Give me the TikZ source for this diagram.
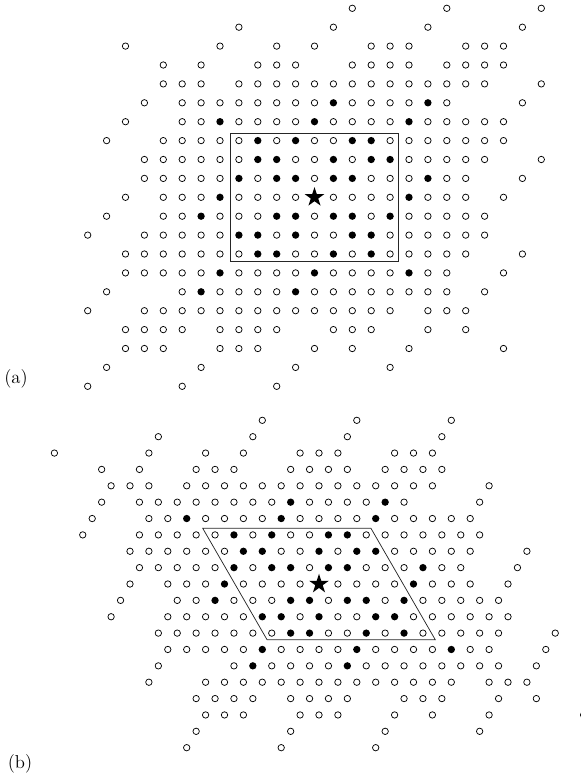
\documentclass[tikz,border=0pt]{standalone}
\usetikzlibrary{shapes.geometric}
\begin{document}
\begin{tikzpicture}[x=0.75pt,y=-0.75pt,
  opendot/.style={circle,draw=black,line width=0.55pt,inner sep=0pt,minimum size=4.8pt},
  filldot/.style={circle,fill=black,inner sep=0pt,minimum size=5.5pt},
  starmark/.style={star,star points=5,star point ratio=2.618,fill=black,inner sep=0pt,minimum size=15.4pt},
  boxline/.style={draw=black!85,line width=0.55pt},
  lab/.style={inner sep=0pt,font=\fontsize{14}{16}\selectfont}]
\useasboundingbox (0,0) rectangle (581,782);
\foreach \p/\X/\Y/\s/\d in {a/314.5/197.3/0/18.9, b/319/584/9.45/16.368}{
  % open circles
  \foreach \r/\cols in {
    0/{14,19,24},
    1/{8,13,18,23},
    2/{2,7,10,12,15,16,17,20,21,22},
    3/{4,6,9,10,11,14,15,16,17,19,20,21,22},
    4/{4,5,6,8,9,10,11,12,13,14,15,16,17,18,19,20,21,24},
    5/{3,5,6,7,8,9,10,11,12,14,15,16,17,19,23},
    6/{2,5,6,8,9,10,11,13,14,15,16,18,19,20,21,22},
    7/{1,4,5,6,7,8,10,12,13,16,17,18,19,20,21,22},
    8/{3,4,5,6,7,8,11,12,14,17,18,19,20,21,24},
    9/{3,4,5,6,7,9,12,15,16,17,19,20,23},
    10/{2,4,5,6,8,9,10,11,13,14,15,16,18,19,20,22},
    11/{1,4,5,7,8,9,12,15,17,18,19,20,21},
    12/{0,3,4,5,6,7,10,12,13,16,17,18,19,20,21},
    13/{2,3,4,5,6,7,8,11,12,14,16,17,18,19,20,23},
    14/{2,3,4,5,6,8,9,10,11,13,14,15,16,18,19,22},
    15/{1,5,7,8,9,10,12,13,14,15,16,17,18,19,21},
    16/{0,3,4,5,6,7,8,9,10,11,12,13,14,15,16,18,19,20},
    17/{2,3,4,5,7,8,9,10,13,14,15,18,20},
    18/{2,3,4,7,8,9,12,14,17,22},
    19/{1,6,11,16},
    20/{0,5,10}}{
    \foreach \c in \cols{
      \node[opendot] (\p-\r-\c) at ({\X+18.9*(\c-12)+\s*(\r-10)},{\Y+\d*(\r-10)}) {};
    }
  }
  % filled dots
  \foreach \r/\c in {5/13,5/18,
    6/7,6/12,6/17,
    7/9,7/11,7/14,7/15,
    8/9,8/10,8/13,8/15,8/16,
    9/8,9/10,9/11,9/13,9/14,9/18,
    10/7,10/17,
    11/6,11/10,11/11,11/13,11/14,11/16,
    12/8,12/9,12/11,12/14,12/15,
    13/9,13/10,13/13,13/15,
    14/7,14/12,14/17,
    15/6,15/11}{
    \node[filldot] (\p-\r-\c) at ({\X+18.9*(\c-12)+\s*(\r-10)},{\Y+\d*(\r-10)}) {};
  }
  % star
  \node[starmark] (\p-star) at (\X,\Y) {};
  % box corners
  \coordinate (\p-tl) at ({\X-18.9*4.45-\s*3.4},{\Y-\d*3.4});
  \coordinate (\p-tr) at ({\X+18.9*4.45-\s*3.4},{\Y-\d*3.4});
  \coordinate (\p-br) at ({\X+18.9*4.45+\s*3.4},{\Y+\d*3.4});
  \coordinate (\p-bl) at ({\X-18.9*4.45+\s*3.4},{\Y+\d*3.4});
  \draw[boxline] (\p-tl) -- (\p-tr) -- (\p-br) -- (\p-bl) -- cycle;
}
\node[lab] (la) at (16,379) {(a)};
\node[lab] (lb) at (20,764) {(b)};
\end{tikzpicture}
\end{document}
